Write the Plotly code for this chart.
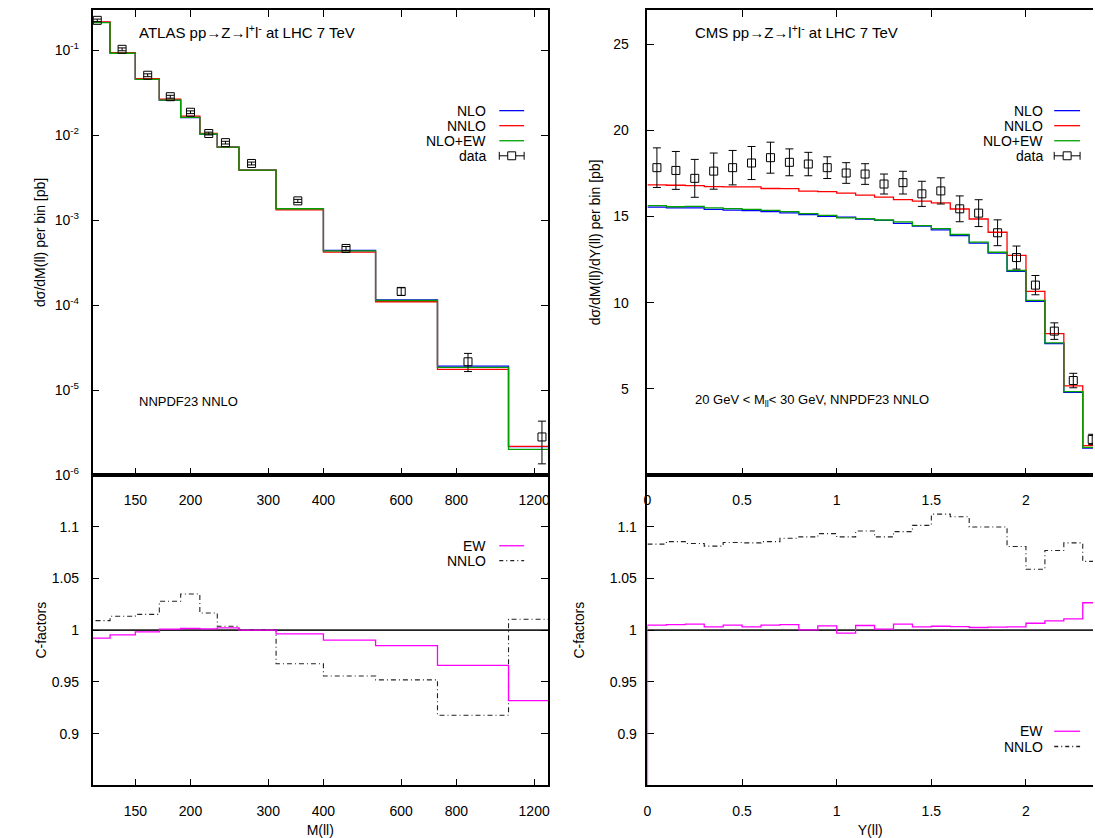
import math
import plotly.graph_objects as go

W, H = 1095, 838
FONT = "Liberation Sans, Arial, sans-serif"

# ---------------- ATLAS (left) ----------------
atlas_m = [123, 140, 160, 180, 200, 220, 240, 275, 350, 450, 600, 850, 1250]
atlas_data = [0.226, 0.103, 0.051, 0.0285, 0.0187, 0.0105, 0.0082, 0.00466,
              0.00169, 4.65e-4, 1.45e-4, 2.15e-5, 2.8e-6]
atlas_err_up = [0.008, 0.004, 0.002, 0.0011, 0.0007, 0.0004, 0.0003, 0.00018,
                0.00007, 0.25e-4, 0.15e-4, 0.55e-5, 1.5e-6]
atlas_err_dn = [0.008, 0.004, 0.002, 0.0011, 0.0007, 0.0004, 0.0003, 0.00018,
                0.00007, 0.25e-4, 0.15e-4, 0.5e-5, 1.45e-6]
atlas_nlo = [0.214, 0.093, 0.0458, 0.026, 0.0162, 0.01035, 0.00723, 0.00389,
             0.00137, 4.4e-4, 1.15e-4, 1.91e-5, 2.15e-6]
atlas_nnlo = [0.216, 0.0942, 0.0465, 0.0267, 0.0168, 0.01053, 0.00726, 0.00389,
              0.001325, 4.2e-4, 1.095e-4, 1.75e-5, 2.17e-6]
atlas_nloew = [0.2124, 0.0926, 0.0457, 0.026, 0.01623, 0.01036, 0.00725, 0.00389,
               0.001365, 4.36e-4, 1.133e-4, 1.845e-5, 2.0e-6]
atlas_c_ew = [0.9924, 0.9955, 0.9984, 1.001, 1.0016, 1.0013, 1.0022, 1.0,
              0.9965, 0.9904, 0.985, 0.966, 0.932]
atlas_c_nnlo = [1.0092, 1.0134, 1.0153, 1.028, 1.035, 1.0166, 1.0038, 1.0006,
                0.9675, 0.9557, 0.952, 0.9178, 1.0105]
atlas_xticks = [150, 200, 300, 400, 600, 800, 1200]

# ---------------- CMS (right) ----------------
cms_y = [0.05, 0.15, 0.25, 0.35, 0.45, 0.55, 0.65, 0.75, 0.85, 0.95, 1.05, 1.15,
         1.25, 1.35, 1.45, 1.55, 1.65, 1.75, 1.85, 1.95, 2.05, 2.15, 2.25, 2.35]
cms_data = [17.84, 17.68, 17.22, 17.64, 17.84, 18.11, 18.42, 18.15, 18.05, 17.84,
            17.53, 17.47, 16.89, 16.97, 16.32, 16.49, 15.45, 15.20, 14.06, 12.62,
            11.02, 8.35, 5.48, 2.06]
cms_err = [1.15, 1.10, 1.10, 1.05, 1.00, 0.96, 0.90, 0.78, 0.68, 0.63, 0.60, 0.60,
           0.58, 0.66, 0.73, 0.76, 0.75, 0.78, 0.75, 0.67, 0.56, 0.48, 0.42, 0.30]
cms_nlo = [15.55, 15.50, 15.50, 15.42, 15.38, 15.34, 15.29, 15.21, 15.12, 15.02,
           14.97, 14.86, 14.78, 14.61, 14.44, 14.23, 13.90, 13.46, 12.88, 11.82,
           10.08, 7.62, 4.79, 1.56]
cms_nnlo = [16.84, 16.82, 16.80, 16.74, 16.73, 16.72, 16.63, 16.62, 16.48, 16.45,
            16.36, 16.25, 16.13, 15.98, 15.90, 15.79, 15.44, 14.86, 14.09, 12.75,
            10.66, 8.20, 5.17, 1.70]
cms_nloew = [15.63, 15.57, 15.59, 15.50, 15.46, 15.42, 15.36, 15.29, 15.17, 15.07,
             14.93, 14.88, 14.80, 14.69, 14.48, 14.30, 13.96, 13.52, 12.93, 11.87,
             10.14, 7.67, 4.84, 1.60]
cms_c_ew = [1.0048, 1.0054, 1.0058, 1.0032, 1.0048, 1.0032, 1.0048, 1.0054, 1.0003,
            1.0042, 0.9971, 1.0045, 1.0010, 1.0058, 1.0032, 1.0038, 1.0035, 1.0026,
            1.0029, 1.0032, 1.0067, 1.0089, 1.0109, 1.0265]
cms_c_nnlo = [1.0831, 1.0856, 1.0837, 1.0812, 1.0847, 1.0843, 1.0856, 1.0888, 1.0901,
              1.0933, 1.0901, 1.0958, 1.0901, 1.0952, 1.1013, 1.1121, 1.1096, 1.0997,
              1.0997, 1.0808, 1.0588, 1.0770, 1.0843, 1.0665]
cms_xticks = [0, 0.5, 1, 1.5, 2]

C_NLO = "#0000ff"
C_NNLO = "#ff0000"
C_EW = "#00a000"
C_MAG = "#ff00ff"


def histeps(centers, values, base=None):
    """gnuplot-style histeps: steps between midpoints of neighbouring x values."""
    n = len(centers)
    edges = [centers[0] - (centers[1] - centers[0]) / 2]
    for i in range(1, n):
        edges.append((centers[i - 1] + centers[i]) / 2)
    edges.append(centers[-1] + (centers[-1] - centers[-2]) / 2)
    xs = list(edges)
    ys = list(values) + [values[-1]]
    if base is not None:
        xs = [edges[0]] + xs + [edges[-1]]
        ys = [base] + ys + [base]
    return xs, ys


fig = go.Figure()


def step_trace(centers, values, color, xa, ya, base=None, dash=None, width=1.3):
    xs, ys = histeps(centers, values, base)
    fig.add_trace(go.Scatter(x=xs, y=ys, mode="lines", line_shape="hv",
                             line=dict(color=color, width=width, dash=dash),
                             xaxis=xa, yaxis=ya, showlegend=False, hoverinfo="skip"))


def data_trace(x, y, up, dn, xa, ya):
    fig.add_trace(go.Scatter(
        x=x, y=y, mode="markers", xaxis=xa, yaxis=ya, showlegend=False,
        marker=dict(symbol="square-open", size=8, color="black", line=dict(width=1)),
        error_y=dict(type="data", symmetric=False, array=up, arrayminus=dn,
                     color="black", thickness=1, width=4)))


# top-left
step_trace(atlas_m, atlas_nlo, C_NLO, "x", "y")
step_trace(atlas_m, atlas_nnlo, C_NNLO, "x", "y")
step_trace(atlas_m, atlas_nloew, C_EW, "x", "y")
data_trace(atlas_m, atlas_data, atlas_err_up, atlas_err_dn, "x", "y")

# top-right
step_trace(cms_y, cms_nlo, C_NLO, "x2", "y2")
step_trace(cms_y, cms_nnlo, C_NNLO, "x2", "y2")
step_trace(cms_y, cms_nloew, C_EW, "x2", "y2")
data_trace(cms_y, cms_data, cms_err, cms_err, "x2", "y2")

# bottom-left
DASH = "5px,3px,1px,3px"
step_trace(atlas_m, atlas_c_nnlo, "#222222", "x3", "y3", dash=DASH, width=1.1)
step_trace(atlas_m, atlas_c_ew, C_MAG, "x3", "y3")

# bottom-right
step_trace(cms_y, cms_c_nnlo, "#222222", "x4", "y4", dash=DASH, width=1.1)
step_trace(cms_y, cms_c_ew, C_MAG, "x4", "y4", base=0)

# ---------------- layout ----------------
xL = [89 / W, 547 / W]
xR = [647 / W, 1.0]
ySplit = 1 - 479.5 / H
yT = [ySplit, 1 - 10 / H]
yB = [1 - 793 / H, ySplit]

tickfont = dict(family=FONT, size=14, color="black")
common = dict(showline=True, linecolor="black", linewidth=1.5, ticks="inside",
              ticklen=7, tickwidth=1, tickcolor="black", showgrid=False,
              zeroline=False, tickfont=tickfont)
logrange = [math.log10(120), math.log10(1290)]
rrange = [0, (W - 647) / 190.3]
tfont = dict(family=FONT, size=14, color="black")

fig.update_layout(
    width=W, height=H, margin=dict(l=0, r=0, t=0, b=0),
    paper_bgcolor="white", plot_bgcolor="white", showlegend=False,
    font=dict(family=FONT, size=14, color="black"),
    xaxis=dict(domain=xL, anchor="y", type="log", range=logrange,
               tickvals=atlas_xticks, ticktext=[str(v) for v in atlas_xticks],
               mirror="ticks", ticklabelstandoff=12, **common),
    yaxis=dict(domain=yT, anchor="x", type="log",
               range=[-6, math.log10(0.30)],
               tickvals=[1e-6, 1e-5, 1e-4, 1e-3, 1e-2, 1e-1],
               ticktext=["10<sup>-6</sup>", "10<sup>-5</sup>", "10<sup>-4</sup>",
                         "10<sup>-3</sup>", "10<sup>-2</sup>", "10<sup>-1</sup>"],
               mirror="ticks", ticklabelstandoff=9,
               title=dict(text="dσ/dM(ll) per bin [pb]", standoff=6, font=tfont),
               **common),
    xaxis2=dict(domain=xR, anchor="y2", range=rrange, tickvals=cms_xticks,
                ticktext=["0", "0.5", "1", "1.5", "2"], mirror="ticks",
                ticklabelstandoff=12, **common),
    yaxis2=dict(domain=yT, anchor="x2", range=[0, 27], tickvals=[5, 10, 15, 20, 25],
                ticktext=["5", "10", "15", "20", "25"], mirror=False,
                ticklabelstandoff=14,
                title=dict(text="dσ/dM(ll)/dY(ll) per bin [pb]", standoff=9, font=tfont),
                **common),
    xaxis3=dict(domain=xL, anchor="y3", type="log", range=logrange,
                tickvals=atlas_xticks, ticktext=[str(v) for v in atlas_xticks],
                mirror=True, ticklabelstandoff=12,
                title=dict(text="M(ll)", standoff=9, font=tfont), **common),
    yaxis3=dict(domain=yB, anchor="x3", range=[0.85, 1.15],
                tickvals=[0.9, 0.95, 1, 1.05, 1.1],
                ticktext=["0.9", "0.95", "1", "1.05", "1.1"], mirror="ticks",
                ticklabelstandoff=9,
                title=dict(text="C-factors", standoff=2, font=tfont), **common),
    xaxis4=dict(domain=xR, anchor="y4", range=rrange, tickvals=cms_xticks,
                ticktext=["0", "0.5", "1", "1.5", "2"], mirror=True,
                ticklabelstandoff=12,
                title=dict(text="Y(ll)", standoff=9, font=tfont), **common),
    yaxis4=dict(domain=yB, anchor="x4", range=[0.85, 1.15],
                tickvals=[0.9, 0.95, 1, 1.05, 1.1],
                ticktext=["0.9", "0.95", "1", "1.05", "1.1"], mirror=False,
                layer="below traces", ticklabelstandoff=6,
                title=dict(text="C-factors", standoff=22, font=tfont), **common),
)

# unity lines in C-factor panels
for xa, ya in (("x3", "y3"), ("x4", "y4")):
    fig.add_shape(type="line", xref=f"{xa} domain", yref=ya, x0=0, x1=1, y0=1, y1=1,
                  line=dict(color="#222222", width=1.6), layer="below")


def px(x):
    return x / W


def py(y):
    return 1 - y / H


def text(x, y, s, anchor="left", size=13):
    fig.add_annotation(x=px(x), y=py(y), xref="paper", yref="paper", text=s,
                       showarrow=False, xanchor=anchor, yanchor="middle",
                       font=dict(family=FONT, size=size, color="black"))


# in-plot labels
text(134, 32, "ATLAS pp→Z→l<sup>+</sup>l<sup>-</sup> at LHC 7 TeV", size=15)
text(134, 405, "NNPDF23 NNLO", size=13)
text(693, 32, "CMS pp→Z→l<sup>+</sup>l<sup>-</sup> at LHC 7 TeV", size=15)
text(693, 404, "20 GeV &lt; M<sub>ll</sub>&lt; 30 GeV, NNPDF23 NNLO", size=13)


def legend_line(xt, x0, x1, y, label, color, dash=None):
    text(xt, y, label, anchor="right", size=14)
    fig.add_shape(type="line", xref="paper", yref="paper", x0=px(x0), x1=px(x1),
                  y0=py(y), y1=py(y), line=dict(color=color, width=1.3, dash=dash))


def legend_data(xt, x0, x1, y):
    text(xt, y, "data", anchor="right", size=14)
    lk = dict(color="black", width=1)
    fig.add_shape(type="line", xref="paper", yref="paper", x0=px(x0), x1=px(x1),
                  y0=py(y), y1=py(y), line=lk)
    for xc in (x0, x1):
        fig.add_shape(type="line", xref="paper", yref="paper", x0=px(xc), x1=px(xc),
                      y0=py(y - 4), y1=py(y + 4), line=lk)
    xm = (x0 + x1) / 2
    fig.add_shape(type="rect", xref="paper", yref="paper", x0=px(xm - 4), x1=px(xm + 4),
                  y0=py(y - 4), y1=py(y + 4), line=lk, fillcolor="white")


for (xt, x0, x1) in ((487, 498, 523), (1047, 1056, 1082)):
    legend_line(xt, x0, x1, 111.7, "NLO", C_NLO)
    legend_line(xt, x0, x1, 126.9, "NNLO", C_NNLO)
    legend_line(xt, x0, x1, 142.1, "NLO+EW", C_EW)
    legend_data(xt, x0, x1, 157.3)

legend_line(487, 498, 523, 551, "EW", C_MAG)
legend_line(487, 498, 523, 566, "NNLO", "#222222", dash="4px,3px,1px,3px")
legend_line(1047, 1056, 1082, 738.3, "EW", C_MAG)
legend_line(1047, 1056, 1082, 753.7, "NNLO", "#222222", dash="4px,3px,1px,3px")

PAGE_FIX = (
    "var d=document.documentElement,b=document.body;"
    "d.style.margin='0';b.style.margin='0';"
    "d.style.overflow='hidden';b.style.overflow='hidden';"
    "d.style.height='838px';b.style.height='838px';"
)
fig.write_html("out.html", config={"displayModeBar": False}, post_script=PAGE_FIX)
